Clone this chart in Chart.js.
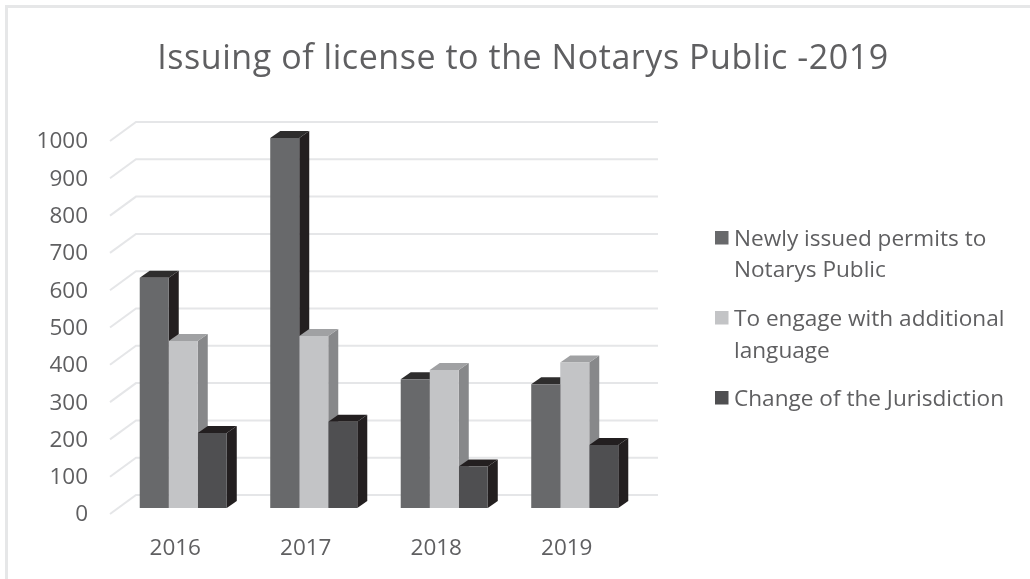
<!DOCTYPE html>
<html>
<head>
<meta charset="utf-8">
<style>html,body{margin:0;padding:0;background:#fff;overflow:hidden}#w{width:1030px;height:579px;position:relative}</style>
<script src="https://cdn.jsdelivr.net/npm/chart.js@4"></script>
</head>
<body>
<div id="w"><canvas id="c" width="1030" height="579"></canvas></div>
<script>
const chartTitle = 'Issuing of license to the Notarys Public -2019';
const categories = ['2016', '2017', '2018', '2019'];
const newlyIssued = [617, 992, 345, 332];
const additionalLanguage = [448, 461, 370, 390];
const changeJurisdiction = [201, 231, 111, 169];
const legendLines = [['Newly issued permits to', 'Notarys Public'], ['To engage with additional', 'language'], ['Change of the Jurisdiction']];

const FONT = '"Open Sans"';
const TEXT = '#5f5f61';
const depthX = 10, depthY = 7;

const styles = [
  {front: '#68696b', side: '#231f20', top: '#2e2d2d'},
  {front: '#c3c4c6', side: '#87888a', top: '#a0a1a3'},
  {front: '#4f4f51', side: '#231f20', top: '#231f20'}
];

const scene = {
  id: 'scene',
  beforeDraw(chart) {
    const ctx = chart.ctx;
    ctx.save();
    ctx.fillStyle = '#fff';
    ctx.fillRect(0, 0, chart.width, chart.height);
    ctx.strokeStyle = '#e6e7e8';
    ctx.lineWidth = 3;
    ctx.beginPath();
    ctx.moveTo(6.5, 579); ctx.lineTo(6.5, 6.5); ctx.lineTo(1030, 6.5);
    ctx.stroke();
    ctx.restore();
  },
  beforeDatasetsDraw(chart) {
    const ctx = chart.ctx, y = chart.scales.y;
    ctx.save();
    ctx.strokeStyle = '#e5e6e8';
    ctx.lineWidth = 2;
    y.ticks.forEach(t => {
      const p = y.getPixelForValue(t.value);
      ctx.beginPath();
      ctx.moveTo(110, p + 6);
      ctx.lineTo(136, p - 13);
      ctx.lineTo(658, p - 13);
      ctx.stroke();
    });
    // side and top faces, left to right, so that neighbours overlap like the 3D original
    const n = chart.data.labels.length;
    for (let i = 0; i < n; i++) {
      chart.data.datasets.forEach((d, k) => {
        const b = chart.getDatasetMeta(k).data[i];
        const l = b.x - b.width / 2, r = b.x + b.width / 2, t = b.y, base = b.base;
        ctx.fillStyle = styles[k].side;
        ctx.beginPath();
        ctx.moveTo(r, t); ctx.lineTo(r + depthX, t - depthY); ctx.lineTo(r + depthX, base - depthY); ctx.lineTo(r, base);
        ctx.closePath(); ctx.fill();
        ctx.fillStyle = styles[k].top;
        ctx.beginPath();
        ctx.moveTo(l, t); ctx.lineTo(l + depthX, t - depthY); ctx.lineTo(r + depthX, t - depthY); ctx.lineTo(r, t);
        ctx.closePath(); ctx.fill();
      });
    }
    ctx.restore();
  },
  afterDraw(chart) {
    const ctx = chart.ctx;
    ctx.save();
    ctx.fillStyle = TEXT;
    ctx.textBaseline = 'middle';
    ctx.textAlign = 'center';
    ctx.font = '34px ' + FONT;
    ctx.letterSpacing = '0.55px';
    ctx.fillText(chartTitle, 523, 59);
    ctx.letterSpacing = '0px';
    ctx.textAlign = 'left';
    ctx.font = '22.6px ' + FONT;
    const rows = [[238, 269], [318, 350], [398]];
    legendLines.forEach((lines, k) => {
      ctx.fillStyle = styles[k].front;
      ctx.fillRect(715, rows[k][0] - 7, 13.5, 13.5);
      ctx.fillStyle = TEXT;
      lines.forEach((s, j) => ctx.fillText(s, 734, rows[k][j] + 1.5));
    });
    ctx.restore();
  }
};

new Chart(document.getElementById('c'), {
  type: 'bar',
  data: {
    labels: categories,
    datasets: [
      {label: legendLines[0].join(' '), data: newlyIssued, backgroundColor: styles[0].front},
      {label: legendLines[1].join(' '), data: additionalLanguage, backgroundColor: styles[1].front},
      {label: legendLines[2].join(' '), data: changeJurisdiction, backgroundColor: styles[2].front}
    ]
  },
  options: {
    responsive: false,
    animation: false,
    layout: {padding: {left: 0, right: 390, top: 135, bottom: 0}},
    datasets: {bar: {categoryPercentage: 0.667, barPercentage: 1, borderWidth: 0}},
    plugins: {legend: {display: false}, title: {display: false}, tooltip: {enabled: false}},
    scales: {
      x: {
        afterFit(s) { s.height = 71; },
        grid: {display: false}, border: {display: false},
        ticks: {color: TEXT, font: {family: FONT, size: 22.5}, labelOffset: -8, padding: 19, maxRotation: 0}
      },
      y: {
        min: 0, max: 1000,
        afterFit(s) { s.width = 118; },
        grid: {display: false}, border: {display: false},
        ticks: {stepSize: 100, color: TEXT, font: {family: FONT, size: 22.5}, labelOffset: 7, padding: 22, callback: v => String(v)}
      }
    }
  },
  plugins: [scene]
});
</script>
</body>
</html>
